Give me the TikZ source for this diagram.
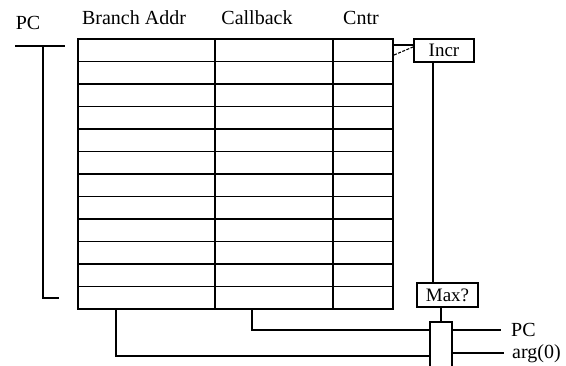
\documentclass[tikz,border=0pt]{standalone}
\usepackage{fontspec}
\setmainfont{Liberation Serif}
\usetikzlibrary{positioning,calc}
\tikzset{
    % Base wire style
    wire/.style={
        draw=black,
        line width=1.1pt
    },
    % Table outline
    tablebox/.style={
        draw=black,
        line width=1.1pt,
        minimum width=315pt,
        minimum height=270pt,
        inner sep=0pt
    },
    % Small logic box
    logicbox/.style={
        draw=black,
        line width=1.1pt,
        fill=white,
        inner sep=0pt,
        font=\fontsize{19}{21}\selectfont
    },
    % Header and pin labels
    lbl/.style={
        inner sep=0pt,
        font=\fontsize{20}{22}\selectfont
    }
}
\begin{document}
\begin{tikzpicture}[x=1pt, y=-1pt]
        \useasboundingbox (0,0) rectangle (566,366);
        \clip (0,0) rectangle (566,366);

        % Headers
        \node[lbl] (pclbl) at (28,23) {PC};
        \node[lbl] (hbranch) at (134,18) {Branch Addr};
        \node[lbl] (hcall) at (257,18) {Callback};
        \node[lbl] (hcntr) at (361,18) {Cntr};

        % Table
        \node[tablebox] (tbl) at (235.5,174) {};
        \foreach \k in {1,...,11}
            \draw[wire] (78,{39+\k*22.5}) -- (393,{39+\k*22.5});
        \draw[wire] (215,39) -- (215,309);
        \draw[wire] (333,39) -- (333,309);

        % PC bracket
        \coordinate (pctop) at (43,46);
        \coordinate (pcbot) at (43,298);
        \draw[wire] (15,46) -- (65,46);
        \draw[wire] (pctop) -- (pcbot) -- (59,298);

        % Logic boxes
        \node[logicbox, minimum width=60pt, minimum height=23pt] (incr) at (444,50.5) {Incr};
        \node[logicbox, minimum width=61pt, minimum height=24pt] (maxq) at (447.5,295) {Max?};
        \node[logicbox, minimum width=22pt, minimum height=60pt] (mux) at (441,352) {};

        % Counter to increment
        \draw[wire] (393,45) -- (incr.west |- 0,45);
        \draw[wire, dashed, dash pattern=on 3pt off 1.5pt] (394,55) -- (413,47);

        % Increment to max check to mux
        \draw[wire] (incr.south -| 433,0) -- (maxq.north -| 433,0);
        \draw[wire] (maxq.south -| mux.north) -- (mux.north);

        % Table to mux
        \draw[wire] (tbl.south -| 116,0) -- (116,356) -- (mux.west |- 0,356);
        \draw[wire] (tbl.south -| 252,0) -- (252,330) -- (mux.west |- 0,330);

        % Outputs
        \node[lbl, anchor=west] (outpc) at (511,330) {PC};
        \node[lbl, anchor=west] (outarg) at (512,354) {arg(0)};
        \draw[wire] (mux.east |- 0,330) -- (501,330);
        \draw[wire] (mux.east |- 0,353) -- (504,353);
    \end{tikzpicture}
\end{document}
